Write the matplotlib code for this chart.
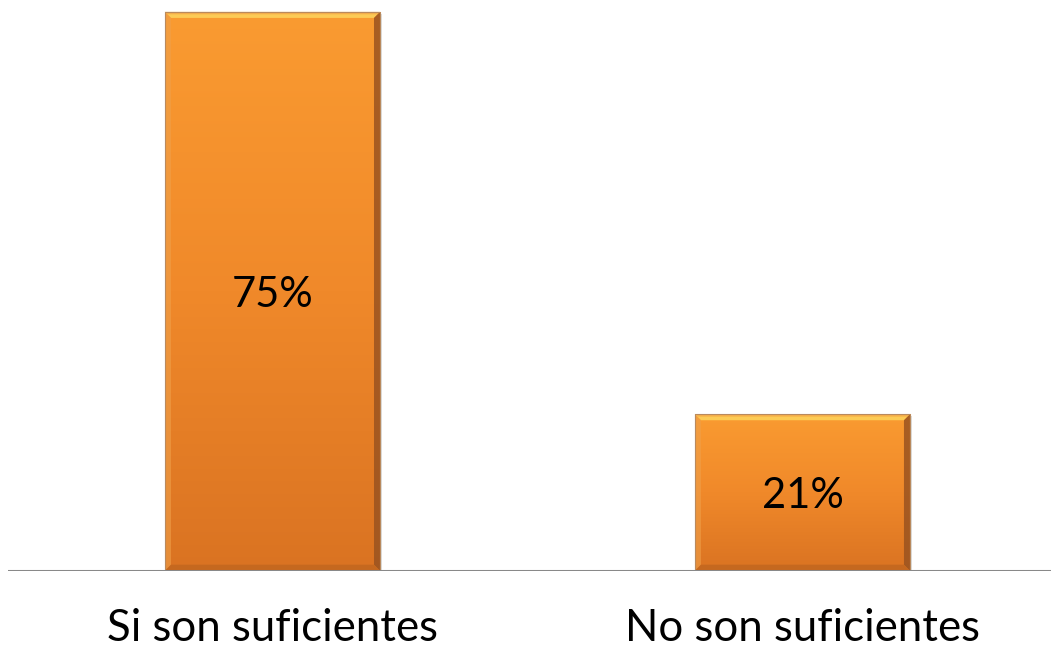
import numpy as np
import matplotlib
import matplotlib.pyplot as plt
from matplotlib.colors import LinearSegmentedColormap
from matplotlib.patches import Polygon, Rectangle

matplotlib.use('agg')

categories = ["Si son suficientes", "No son suficientes"]
values = [75, 21]
labels = ["75%", "21%"]

fig = plt.figure(figsize=[10.51, 6.5], dpi=100)
ax = fig.add_axes([7.5/1051, 79.3/650, 1043.5/1051, 570.7/650])
ax.set_xlim(-0.5, 1.469)
ax.set_ylim(0, 76.6)

xs = np.arange(len(categories))
width = 0.4057
bars = ax.bar(xs, values, width=width, color='none', zorder=2)

# gradient from light orange (top) to darker orange (bottom)
cmap = LinearSegmentedColormap.from_list('org', ['#DA7322', '#F0892A', '#FA9B31'])
grad = np.linspace(0, 1, 256).reshape(-1, 1)

# pixel -> data helpers for the bevel
px_x = 1.969/1043.5
px_y = 76.6/570.7

for b, lab in zip(bars, labels):
    x0, w, h = b.get_x(), b.get_width(), b.get_height()
    x1 = x0 + w
    # shadow
    ax.add_patch(Rectangle((x0 + 2*px_x, -2*px_y), w, h, color='#c8c8c8', alpha=0.6, zorder=1, lw=0))
    ax.imshow(grad, extent=[x0, x1, 0, h], origin='lower', cmap=cmap, aspect='auto', zorder=2)
    bx, by = 6*px_x, 6*px_y
    # top bevel (yellow highlight)
    ax.add_patch(Polygon([(x0, h), (x1, h), (x1 - bx, h - by), (x0 + bx, h - by)],
                         closed=True, color='#FCCB55', lw=0, zorder=3))
    ax.add_patch(Polygon([(x0, h), (x1, h), (x1 - bx*0.5, h - by*0.4), (x0 + bx*0.5, h - by*0.4)],
                         closed=True, color='#F6B04A', lw=0, zorder=3))
    # left bevel
    ax.add_patch(Polygon([(x0, h), (x0 + bx, h - by), (x0 + bx, by), (x0, 0)],
                         closed=True, color='#EFA04A', alpha=0.6, lw=0, zorder=3))
    # right bevel (dark)
    ax.add_patch(Polygon([(x1, h), (x1 - bx, h - by), (x1 - bx, by), (x1, 0)],
                         closed=True, color='#9A5320', alpha=0.85, lw=0, zorder=3))
    # bottom bevel
    ax.add_patch(Polygon([(x0, 0), (x1, 0), (x1 - bx, by), (x0 + bx, by)],
                         closed=True, color='#C0661F', alpha=0.8, lw=0, zorder=3))
    ax.add_patch(Rectangle((x0, 0), w, h, fill=False, ec='#B98A5E', lw=0.8, zorder=4))
    ax.text(b.get_x() + w/2, h/2 - 0.5, lab, ha='center', va='center',
            fontsize=30, family=['Lato', 'DejaVu Sans'], color='black', zorder=5)

ax.axhline(0, color='#898989', lw=2.2, zorder=6)

ax.set_xticks(xs)
ax.set_xticklabels(categories, fontsize=31.5, family=['Lato', 'DejaVu Sans'])
ax.tick_params(axis='x', length=0, pad=27)
ax.set_yticks([])
for s in ax.spines.values():
    s.set_visible(False)

plt.savefig("out.png", dpi=100)
plt.close()
